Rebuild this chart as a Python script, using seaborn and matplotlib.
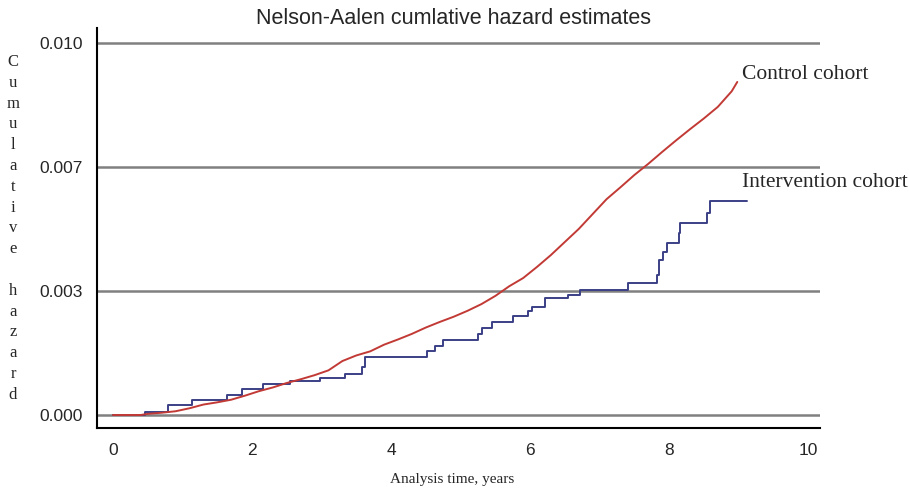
import numpy as np
import pandas as pd
import matplotlib
matplotlib.use("Agg")
import matplotlib.pyplot as plt
import seaborn as sns

# ---- data ----
control_t = [0.0, 0.40, 0.50, 0.70, 0.90, 1.10, 1.30, 1.50, 1.70, 1.90, 2.10, 2.30,
             2.50, 2.70, 2.90, 3.10, 3.30, 3.50, 3.70, 3.90, 4.10, 4.30, 4.50, 4.70,
             4.90, 5.10, 5.30, 5.50, 5.70, 5.90, 6.10, 6.30, 6.50, 6.70, 6.90, 7.10,
             7.30, 7.50, 7.70, 7.90, 8.10, 8.30, 8.50, 8.70, 8.90, 8.98]
control_h = [0.0, 0.0, 0.00003, 0.00006, 0.00010, 0.00018, 0.00028, 0.00034, 0.00041,
             0.00052, 0.00064, 0.00074, 0.00086, 0.00096, 0.00107, 0.00120, 0.00145,
             0.00160, 0.00171, 0.00189, 0.00203, 0.00218, 0.00235, 0.00250, 0.00264,
             0.00280, 0.00298, 0.00320, 0.00346, 0.00368, 0.00398, 0.00430, 0.00465,
             0.00500, 0.00540, 0.00580, 0.00612, 0.00645, 0.00675, 0.00707, 0.00738,
             0.00768, 0.00797, 0.00828, 0.00870, 0.00895]

interv_t = [0.0, 0.46, 0.79, 1.14, 1.64, 1.86, 2.16, 2.55, 2.98, 3.34, 3.58, 3.63,
            4.52, 4.63, 4.75, 5.25, 5.31, 5.45, 5.76, 5.97, 6.03, 6.22, 6.55, 6.72,
            7.41, 7.83, 7.86, 7.91, 7.97, 8.14, 8.16, 8.55, 8.59, 9.12]
interv_h = [0.0, 0.00008, 0.00027, 0.00040, 0.00054, 0.00070, 0.00083, 0.00091,
            0.00099, 0.00110, 0.00130, 0.00156, 0.00172, 0.00185, 0.00202, 0.00218,
            0.00234, 0.00250, 0.00266, 0.00280, 0.00290, 0.00315, 0.00323, 0.00336,
            0.00355, 0.00376, 0.00417, 0.00438, 0.00462, 0.00489, 0.00516, 0.00543,
            0.00575, 0.00575]

ytick_vals = [0.0, 0.01 / 3, 0.02 / 3, 0.01]
ytick_labels = ["0.000", "0.003", "0.007", "0.010"]
xtick_vals = [0, 2, 4, 6, 8, 10]

title = "Nelson-Aalen cumlative hazard estimates"
xlabel = "Analysis time, years"
ylabel = "Cumulative hazard"
label_control = "Control cohort"
label_interv = "Intervention cohort"

# ---- plotting ----
sns.set_style("white")
plt.rcParams["font.family"] = ["Liberation Sans", "DejaVu Sans"]

fig = plt.figure(figsize=(9.09, 4.92), dpi=100)
ax = fig.add_axes([97 / 909, 1 - 428 / 492, (820 - 97) / 909, (428 - 28) / 492])

for y in ytick_vals:
    ax.axhline(y, color="#808080", lw=1.8, zorder=1)

df_c = pd.DataFrame({"t": control_t, "h": control_h})
df_i = pd.DataFrame({"t": interv_t, "h": interv_h})

sns.lineplot(data=df_i, x="t", y="h", ax=ax, estimator=None, sort=False,
             drawstyle="steps-post", color="#3b3f86", lw=1.4, zorder=3)
sns.lineplot(data=df_c, x="t", y="h", ax=ax, estimator=None, sort=False,
             color="#c23a35", lw=1.4, zorder=4)

ax.set_xlim(-0.23, 10.17)
ax.set_ylim(-0.00035, 0.0104)
ax.set_xticks(xtick_vals)
ax.set_xticklabels([str(v) for v in xtick_vals])
ax.set_yticks(ytick_vals)
ax.set_yticklabels(ytick_labels)
ax.tick_params(axis="both", which="major", direction="out", length=6, width=1.5,
               color="black", labelsize=12.5, pad=4)
ax.tick_params(axis="x", pad=5)

for s in ["top", "right"]:
    ax.spines[s].set_visible(False)
for s in ["left", "bottom"]:
    ax.spines[s].set_color("black")
    ax.spines[s].set_linewidth(1.5)

ax.set_xlabel("")
ax.set_ylabel("")

fig.text(454 / 909, 1 - 18 / 492, title, ha="center", va="center", fontsize=15.5)
fig.text(452 / 909, 1 - 480 / 492, xlabel, ha="center", va="center",
         fontsize=11, family="Liberation Serif")

# vertical stacked y label
y0, dy = 62, 20.8
for i, ch in enumerate(ylabel):
    if ch == " ":
        continue
    fig.text(13 / 909, 1 - (y0 + i * dy) / 492, ch, ha="center", va="center",
             fontsize=12, family="Liberation Serif")

ax.text(9.05, 0.00914, label_control, ha="left", va="center", fontsize=15.5,
        family="Liberation Serif")
ax.text(9.05, 0.00626, label_interv, ha="left", va="center", fontsize=15.5,
        family="Liberation Serif")

fig.savefig("out.png", dpi=100)
